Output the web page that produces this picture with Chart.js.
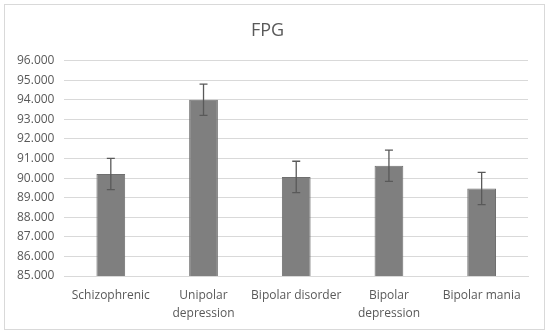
<!DOCTYPE html>
<html>
<head>
<meta charset="utf-8">
<script src="https://cdn.jsdelivr.net/npm/chart.js"></script>
<style>
html,body{margin:0;padding:0;background:#fff;}
#wrap{position:absolute;left:0;top:0;width:550px;height:334px;}
</style>
</head>
<body>
<div id="wrap"><canvas id="c" width="550" height="334"></canvas></div>
<script>
const categories = [["Schizophrenic"], ["Unipolar", "depression"], ["Bipolar disorder"], ["Bipolar", "depression"], ["Bipolar mania"]];
const values = [90.21, 94.0, 90.06, 90.63, 89.47];
const errors = [0.80, 0.80, 0.80, 0.80, 0.82];
const yMin = 85, yMax = 96, yStep = 1;

const borderPlugin = {
  id: 'frame',
  beforeDraw(chart) {
    const ctx = chart.ctx;
    ctx.save();
    ctx.fillStyle = '#fff';
    ctx.fillRect(0, 0, chart.width, chart.height);
    ctx.strokeStyle = '#d9d9d9';
    ctx.lineWidth = 1;
    ctx.strokeRect(4.5, 4.5, 540, 325);
    ctx.restore();
  }
};

const errorPlugin = {
  id: 'errbars',
  afterDatasetsDraw(chart) {
    const ctx = chart.ctx;
    const meta = chart.getDatasetMeta(0);
    const ys = chart.scales.y;
    ctx.save();
    ctx.strokeStyle = '#595959';
    ctx.lineWidth = 1.3;
    meta.data.forEach((bar, i) => {
      const x = bar.x;
      const top = ys.getPixelForValue(values[i] + errors[i]);
      const bot = ys.getPixelForValue(values[i] - errors[i]);
      ctx.beginPath();
      ctx.moveTo(x, top); ctx.lineTo(x, bot);
      ctx.moveTo(x - 4, top); ctx.lineTo(x + 4, top);
      ctx.moveTo(x - 4, bot); ctx.lineTo(x + 4, bot);
      ctx.stroke();
    });
    ctx.restore();
  }
};

new Chart(document.getElementById('c'), {
  type: 'bar',
  data: {
    labels: categories,
    datasets: [{
      data: values,
      backgroundColor: '#7f7f7f',
      borderColor: '#6f6f6f',
      borderWidth: 1,
      barPercentage: 0.31,
      categoryPercentage: 1.0
    }]
  },
  options: {
    responsive: false,
    animation: false,
    layout: { padding: { left: 7, right: 22, top: 12, bottom: 0 } },
    plugins: {
      legend: { display: false },
      tooltip: { enabled: false },
      title: {
        display: true,
        text: 'FPG',
        color: '#595959',
        font: { family: 'Open Sans', size: 18, weight: 'normal' },
        padding: { top: 8, bottom: 19 }
      }
    },
    scales: {
      x: {
        grid: { display: false, drawTicks: false },
        border: { color: '#d9d9d9' },
        ticks: {
          color: '#595959',
          font: { family: 'Open Sans', size: 12, lineHeight: 1.5 },
          padding: 11,
          maxRotation: 0,
          autoSkip: false
        }
      },
      y: {
        min: yMin, max: yMax,
        grid: { color: '#d9d9d9', drawTicks: false },
        border: { display: false },
        ticks: {
          stepSize: yStep,
          color: '#595959',
          font: { family: 'Open Sans', size: 12 },
          padding: 10,
          callback: v => v.toFixed(3)
        }
      }
    }
  },
  plugins: [borderPlugin, errorPlugin]
});
</script>
</body>
</html>
